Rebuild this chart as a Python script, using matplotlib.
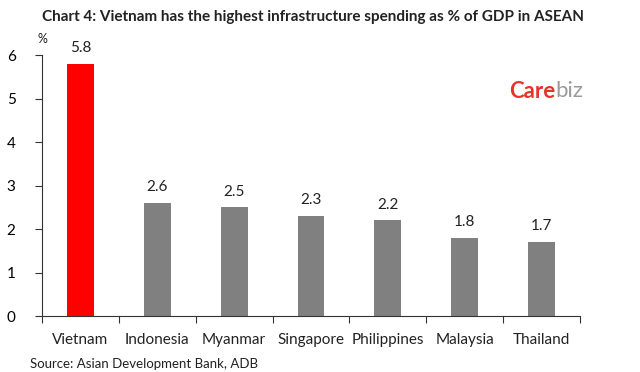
import matplotlib
matplotlib.use('Agg')
import matplotlib.pyplot as plt

countries = ['Vietnam', 'Indonesia', 'Myanmar', 'Singapore', 'Philippines', 'Malaysia', 'Thailand']
spending = [5.8, 2.6, 2.5, 2.3, 2.2, 1.8, 1.7]
bar_colors = ['#ff0000'] + ['#808080'] * 6

plt.rcParams['font.family'] = ['Lato', 'DejaVu Sans']

fig = plt.figure(figsize=(6.4, 3.72), dpi=100)
ax = fig.add_axes([0.0656, 0.1505, 0.8406, 0.7015])

xs = range(len(countries))
ax.bar(xs, spending, width=0.35, color=bar_colors)
for x, v in zip(xs, spending):
    ax.text(x, v + 0.2, f'{v:.1f}', ha='center', va='bottom', fontsize=11, color='#222222')

ax.set_xlim(-0.5, len(countries) - 0.5)
ax.set_ylim(0, 6)
ax.set_yticks(range(0, 7))
ax.set_yticklabels([str(t) for t in range(0, 7)], fontsize=11)
ax.set_xticks([i - 0.5 for i in range(len(countries) + 1)])
ax.set_xticklabels([])
for x, name in zip(xs, countries):
    ax.text(x, -0.4, name, ha='center', va='top', fontsize=11, color='#222222')

for side in ['top', 'right']:
    ax.spines[side].set_visible(False)
for side in ['left', 'bottom']:
    ax.spines[side].set_color('#333333')
ax.tick_params(axis='y', direction='out', length=5, color='#333333', pad=14)
ax.tick_params(axis='x', direction='out', length=5, color='#333333')

fig.text(0.066, 0.955, 'Chart 4: Vietnam has the highest infrastructure spending as % of GDP in ASEAN',
         fontsize=11, fontweight='bold', color='#222222', va='center')
fig.text(0.058, 0.895, '%', fontsize=9, color='#222222', va='center')
fig.text(0.047, 0.005, 'Source: Asian Development Bank, ADB', fontsize=9.5, color='#222222', va='bottom')

# logo
logo = fig.text(0.795, 0.755, 'Care', fontsize=16, fontweight='bold', color='#e8322b', va='center', ha='left')
fig.canvas.draw()
bb = logo.get_window_extent().transformed(fig.transFigure.inverted())
fig.text(bb.x1, 0.755, 'biz', fontsize=16, color='#9a9a9a', va='center', ha='left')

fig.savefig('out.png', dpi=100, facecolor='white')
